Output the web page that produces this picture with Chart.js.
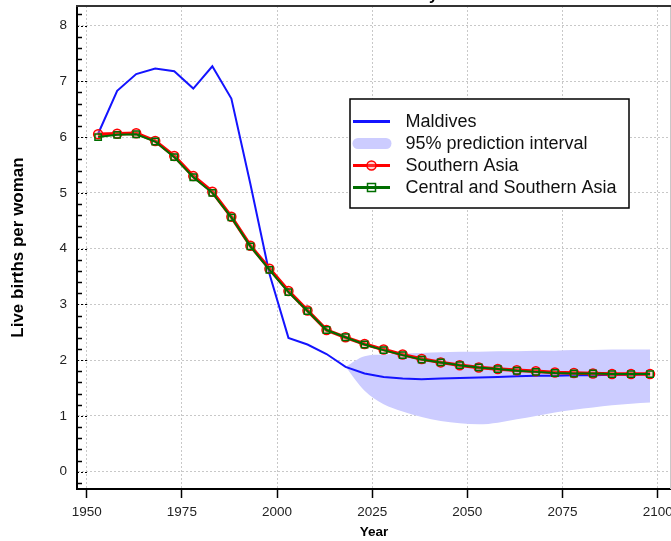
<!DOCTYPE html>
<html>
<head>
<meta charset="utf-8">
<script src="https://cdn.jsdelivr.net/npm/chart.js@4"></script>
<style>
  html, body { margin: 0; padding: 0; overflow: hidden; background: #fff; }
  canvas { display: block; }
</style>
</head>
<body>
<canvas id="chart" width="700" height="541"></canvas>
<script>
// Data (5-year period midpoints)
const years = [1953, 1958, 1963, 1968, 1973, 1978, 1983, 1988, 1993, 1998,
  2003, 2008, 2013, 2018, 2023, 2028, 2033, 2038, 2043, 2048,
  2053, 2058, 2063, 2068, 2073, 2078, 2083, 2088, 2093, 2098];

const maldives = [6.06, 6.83, 7.13, 7.23, 7.18, 6.87, 7.27, 6.69, 5.16, 3.55,
  2.40, 2.28, 2.11, 1.88, 1.76, 1.70, 1.67, 1.66, 1.67, 1.68,
  1.69, 1.70, 1.71, 1.72, 1.72, 1.73, 1.73, 1.74, 1.74, 1.75];

const southernAsia = [6.05, 6.06, 6.07, 5.93, 5.66, 5.30, 5.02, 4.57, 4.05, 3.64,
  3.24, 2.89, 2.54, 2.41, 2.29, 2.19, 2.10, 2.02, 1.96, 1.91,
  1.87, 1.84, 1.82, 1.80, 1.78, 1.77, 1.76, 1.75, 1.75, 1.75];

const centralSouthernAsia = [6.00, 6.04, 6.05, 5.92, 5.64, 5.28, 5.00, 4.56, 4.04, 3.62,
  3.22, 2.88, 2.54, 2.41, 2.28, 2.18, 2.09, 2.01, 1.96, 1.91,
  1.87, 1.84, 1.81, 1.79, 1.77, 1.76, 1.76, 1.75, 1.75, 1.75];

const bandYears = [2018, 2023, 2028, 2033, 2038, 2043, 2048, 2053, 2058,
  2063, 2068, 2073, 2078, 2083, 2088, 2093, 2098];
const bandUpper = [1.88, 2.07, 2.10, 2.12, 2.13, 2.14, 2.15, 2.15, 2.16,
  2.16, 2.17, 2.17, 2.18, 2.18, 2.19, 2.19, 2.19];
const bandLower = [1.88, 1.45, 1.21, 1.08, 0.98, 0.91, 0.87, 0.85, 0.88,
  0.94, 1.00, 1.06, 1.11, 1.15, 1.19, 1.22, 1.24];

const FONT = '"Liberation Sans", Arial, Helvetica, sans-serif';
const BLUE = '#1414ff';
const RED = '#ff0000';
const GREEN = '#006e00';
const BAND = 'rgb(204,204,255)';

function toPoints(xs, ys) {
  return xs.map((x, i) => ({ x: x, y: ys[i] }));
}

// title, mostly cut off at the top edge
const titlePlugin = {
  id: 'cutTitle',
  afterDraw(chart) {
    const ctx = chart.ctx;
    ctx.save();
    ctx.font = 'bold 16px ' + FONT;
    ctx.fillStyle = '#000';
    ctx.textAlign = 'right';
    ctx.textBaseline = 'alphabetic';
    ctx.fillText('Maldives: Total Fertility', 438, 0);
    ctx.restore();
  }
};

// top / right frame and the small inner ticks on the y axis
const framePlugin = {
  id: 'frame',
  afterDatasetsDraw(chart) {
    const ctx = chart.ctx;
    const a = chart.chartArea;
    const y = chart.scales.y;
    ctx.save();
    ctx.strokeStyle = '#c8c8c8';
    ctx.lineWidth = 1;
    ctx.beginPath();
    ctx.moveTo(a.right - 0.5, a.top);
    ctx.lineTo(a.right - 0.5, a.bottom);
    ctx.stroke();
    ctx.strokeStyle = '#333';
    ctx.lineWidth = 2;
    ctx.beginPath();
    ctx.moveTo(a.left - 1, a.top);
    ctx.lineTo(a.right, a.top);
    ctx.stroke();

    ctx.strokeStyle = '#000';
    for (let k = -1; k <= 41; k++) {
      const v = k / 5;
      const py = Math.round(y.getPixelForValue(v)) + 0.5;
      if (py < a.top + 2 || py > a.bottom - 2) continue;
      ctx.beginPath();
      if (k % 5 === 0) {
        ctx.setLineDash([2, 2]);
        ctx.lineWidth = 1;
        ctx.moveTo(a.left, py);
        ctx.lineTo(a.left + 10, py);
      } else {
        ctx.setLineDash([]);
        ctx.lineWidth = 1.5;
        ctx.moveTo(a.left, py);
        ctx.lineTo(a.left + 5, py);
      }
      ctx.stroke();
    }
    ctx.restore();
  }
};

// boxed legend inside the plot
const legendPlugin = {
  id: 'boxLegend',
  afterDraw(chart) {
    const ctx = chart.ctx;
    const ds = chart.data.datasets;
    const rows = [ds[2], ds[3], ds[1], ds[0]];
    const bx = 350, by = 99, bw = 279, bh = 109;
    ctx.save();
    ctx.fillStyle = '#fff';
    ctx.fillRect(bx, by, bw, bh);
    ctx.strokeStyle = '#000';
    ctx.lineWidth = 1.5;
    ctx.strokeRect(bx, by, bw, bh);

    rows.forEach((d, i) => {
      const cy = 121.5 + i * 22;
      const x0 = 353, x1 = 390, xm = (x0 + x1) / 2;
      ctx.setLineDash([]);
      if (d.fill) {
        ctx.strokeStyle = d.backgroundColor;
        ctx.lineWidth = 11;
        ctx.lineCap = 'round';
        ctx.beginPath();
        ctx.moveTo(x0 + 5, cy);
        ctx.lineTo(x1 - 4, cy);
        ctx.stroke();
        ctx.lineCap = 'butt';
      } else {
        ctx.strokeStyle = d.borderColor;
        ctx.lineWidth = 3;
        ctx.beginPath();
        ctx.moveTo(x0, cy);
        ctx.lineTo(x1, cy);
        ctx.stroke();
        if (d.pointRadius > 0) {
          ctx.lineWidth = 1.5;
          ctx.strokeStyle = d.pointBorderColor;
          ctx.fillStyle = d.pointBackgroundColor;
          ctx.beginPath();
          if (d.pointStyle === 'rect') {
            ctx.rect(xm - 4, cy - 4, 8, 8);
          } else {
            ctx.arc(xm, cy, 4.5, 0, Math.PI * 2);
          }
          ctx.fill();
          ctx.stroke();
        }
      }
      ctx.fillStyle = '#111';
      ctx.font = '18px ' + FONT;
      ctx.textAlign = 'left';
      ctx.textBaseline = 'middle';
      ctx.fillText(d.label, 405.5, cy + 1);
    });
    ctx.restore();
  }
};

Chart.defaults.font.family = FONT;
Chart.defaults.color = '#222';

const ctx = document.getElementById('chart');
const myChart = new Chart(ctx, {
  type: 'line',
  data: {
    datasets: [
      {
        label: 'Central and Southern Asia',
        data: toPoints(years, centralSouthernAsia),
        borderColor: GREEN,
        borderWidth: 2,
        pointStyle: 'rect',
        pointRadius: 4.5,
        pointBorderWidth: 1.5,
        pointBorderColor: GREEN,
        pointBackgroundColor: 'rgba(0,0,0,0)',
        fill: false,
        order: 0
      },
      {
        label: 'Southern Asia',
        data: toPoints(years, southernAsia),
        borderColor: RED,
        borderWidth: 3.5,
        pointStyle: 'circle',
        pointRadius: 4.5,
        pointBorderWidth: 1.5,
        pointBorderColor: RED,
        pointBackgroundColor: 'rgba(255,120,120,0.35)',
        fill: false,
        order: 1
      },
      {
        label: 'Maldives',
        data: toPoints(years, maldives),
        borderColor: BLUE,
        borderWidth: 2,
        pointRadius: 0,
        fill: false,
        order: 2
      },
      {
        label: '95% prediction interval',
        data: toPoints(bandYears, bandUpper),
        borderWidth: 0,
        borderColor: BAND,
        backgroundColor: BAND,
        pointRadius: 0,
        cubicInterpolationMode: 'monotone',
        fill: '+1',
        order: 3
      },
      {
        label: '',
        data: toPoints(bandYears, bandLower),
        borderWidth: 0,
        borderColor: BAND,
        backgroundColor: BAND,
        pointRadius: 0,
        cubicInterpolationMode: 'monotone',
        fill: false,
        order: 4
      }
    ]
  },
  options: {
    responsive: false,
    animation: false,
    layout: { padding: { top: 6, right: 29, bottom: 0, left: 0 } },
    plugins: {
      legend: { display: false },
      tooltip: { enabled: false }
    },
    scales: {
      x: {
        type: 'linear',
        min: 1947.45,
        max: 2103.5,
        ticks: {
          stepSize: 25,
          includeBounds: false,
          maxRotation: 0,
          padding: 6,
          color: '#222',
          font: { size: 13.5 },
          callback: (v) => String(v)
        },
        grid: {
          color: '#c8c8c8',
          lineWidth: 1,
          tickColor: '#000',
          tickLength: 9,
          tickWidth: 1.5
        },
        border: { color: '#000', width: 2, dash: [2, 2] },
        title: {
          display: true,
          text: 'Year',
          color: '#000',
          font: { size: 13.5, weight: 'bold' },
          padding: { top: 0, bottom: 1 }
        },
        afterFit: (s) => { s.height = 52; s.paddingLeft = 0; s.paddingRight = 0; }
      },
      y: {
        min: -0.31,
        max: 8.35,
        ticks: {
          stepSize: 1,
          includeBounds: false,
          padding: 10,
          color: '#222',
          font: { size: 13.5 }
        },
        grid: {
          color: '#c8c8c8',
          lineWidth: 1,
          drawTicks: false
        },
        border: { color: '#000', width: 2, dash: [2, 2] },
        title: {
          display: true,
          text: 'Live births per woman',
          color: '#000',
          font: { size: 17, weight: 'bold' },
          padding: { top: 8, bottom: 0 }
        },
        afterFit: (s) => { s.width = 77; s.paddingTop = 0; s.paddingBottom = 0; }
      }
    }
  },
  plugins: [framePlugin, legendPlugin, titlePlugin]
});
</script>
</body>
</html>
